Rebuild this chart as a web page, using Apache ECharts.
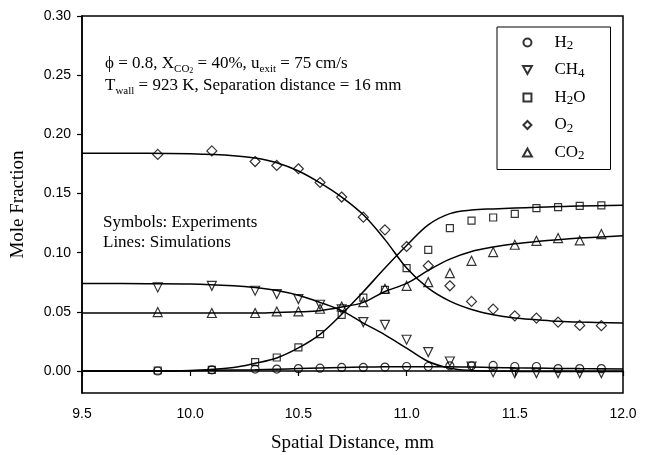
<!DOCTYPE html>
<html>
<head>
<meta charset="utf-8">
<script src="https://cdn.jsdelivr.net/npm/echarts@6/dist/echarts.min.js"></script>
<style>html,body{margin:0;padding:0;background:#fff}#c{width:654px;height:455px}</style>
</head>
<body>
<div id="c"></div>
<script>
// Experimental positions (mm)
const xExp = [9.85, 10.1, 10.3, 10.4, 10.5, 10.6, 10.7, 10.8, 10.9, 11.0, 11.1, 11.2, 11.3, 11.4, 11.5, 11.6, 11.7, 11.8, 11.9];
const h2Exp  = [0.000, 0.001, 0.0016, 0.0016, 0.002, 0.0024, 0.003, 0.003, 0.0033, 0.0038, 0.0038, 0.0044, 0.0044, 0.0047, 0.0038, 0.0038, 0.002, 0.002, 0.002];
const ch4Exp = [0.0706, 0.072, 0.0678, 0.065, 0.0608, 0.056, 0.052, 0.0413, 0.039, 0.0264, 0.016, 0.008, 0.0038, -0.001, -0.0018, -0.0018, -0.0018, -0.0018, -0.0018];
const h2oExp = [0.0004, 0.001, 0.0075, 0.0114, 0.0199, 0.0312, 0.0475, 0.062, 0.0686, 0.087, 0.1024, 0.1207, 0.127, 0.1297, 0.1328, 0.1376, 0.1385, 0.1396, 0.1399];
const o2Exp  = [0.183, 0.186, 0.177, 0.1737, 0.1709, 0.1593, 0.147, 0.130, 0.1193, 0.1052, 0.0889, 0.072, 0.0588, 0.0523, 0.0466, 0.0447, 0.0413, 0.0385, 0.0383];
const co2Exp = [0.0498, 0.049, 0.049, 0.0503, 0.0503, 0.0526, 0.0545, 0.0582, 0.0695, 0.072, 0.0751, 0.0827, 0.0931, 0.1005, 0.1067, 0.110, 0.1123, 0.1103, 0.1157];

// Simulation curves
const xSim   = [9.5, 9.8, 10.0, 10.2, 10.3, 10.4, 10.5, 10.6, 10.7, 10.8, 10.9, 11.0, 11.1, 11.2, 11.3, 11.4, 11.5, 11.6, 11.7, 11.8, 12.0];
const h2Sim  = [0.000, 0.000, 0.0003, 0.0008, 0.001, 0.0015, 0.002, 0.0025, 0.003, 0.0033, 0.0035, 0.0036, 0.0036, 0.0035, 0.0033, 0.003, 0.0027, 0.0025, 0.0022, 0.002, 0.0017];
const ch4Sim = [0.074, 0.0738, 0.0735, 0.072, 0.0705, 0.068, 0.064, 0.058, 0.051, 0.0405, 0.0306, 0.0193, 0.008, 0.0024, 0.0005, 0.0, -0.0003, -0.0005, -0.0005, -0.0005, -0.0005];
const h2oSim = [0.000, 0.000, 0.0005, 0.003, 0.0065, 0.011, 0.0195, 0.031, 0.048, 0.067, 0.087, 0.106, 0.1235, 0.133, 0.136, 0.137, 0.1377, 0.1383, 0.139, 0.1395, 0.140];
const o2Sim  = [0.184, 0.184, 0.1835, 0.182, 0.180, 0.176, 0.169, 0.159, 0.147, 0.132, 0.111, 0.087, 0.070, 0.059, 0.052, 0.0475, 0.0447, 0.0433, 0.042, 0.0413, 0.0405];
const co2Sim = [0.049, 0.049, 0.049, 0.049, 0.049, 0.0495, 0.050, 0.051, 0.054, 0.058, 0.0672, 0.074, 0.085, 0.0945, 0.101, 0.1047, 0.1075, 0.1094, 0.111, 0.1123, 0.1143];

const yTicks = [0, 0.05, 0.10, 0.15, 0.20, 0.25, 0.30];
const species = ['H2', 'CH4', 'H2O', 'O2', 'CO2'];
const legendRich = { H2: '{a|H}{b|2}', CH4: '{a|CH}{b|4}', H2O: '{a|H}{b|2}{a|O}', O2: '{a|O}{b|2}', CO2: '{a|CO}{b|2}' };

const pair = (xs, ys) => xs.map((x, i) => [x, ys[i]]);
const serif = 'Liberation Serif';
const sans = 'Liberation Sans';

const SYM = {
  circle: 'circle',
  downTri: 'path://M0,0L10,0L5,9Z',
  square: 'path://M0,0H10V10H0Z',
  diamond: 'path://M5,0L10,5L5,10L0,5Z',
  upTri: 'path://M5,0L10,9L0,9Z'
};

const markStyle = { color: 'rgba(0,0,0,0)', borderColor: '#000', borderWidth: 1.2 };
function scat(name, ys, symbol, size) {
  return { name, type: 'scatter', data: pair(xExp, ys), symbol, symbolSize: size,
           itemStyle: markStyle, z: 3, emphasis: { disabled: true } };
}
function line(name, ys) {
  return { name, type: 'line', data: pair(xSim, ys), smooth: 0.35, showSymbol: false, symbol: 'none',
           lineStyle: { color: '#000', width: 1.5 }, itemStyle: { color: '#000' }, z: 2 };
}

const chart = echarts.init(document.getElementById('c'), null, { renderer: 'canvas' });
chart.setOption({
  animation: false,
  backgroundColor: '#fff',
  grid: { left: 82, right: 31, top: 16, bottom: 62, show: true, borderColor: '#000', borderWidth: 1.5,
          backgroundColor: 'transparent', containLabel: false, outerBoundsMode: 'none' },
  xAxis: {
    type: 'value', min: 9.5, max: 12.0, interval: 0.5,
    axisLine: { lineStyle: { color: '#000', width: 1.5 } },
    axisTick: { show: true, inside: false, length: 5, lineStyle: { color: '#000', width: 1.2 } },
    splitLine: { show: false },
    axisLabel: { color: '#000', fontFamily: sans, fontSize: 14, margin: 14, formatter: v => v.toFixed(1) },
    name: 'Spatial Distance, mm', nameLocation: 'middle', nameGap: 41,
    nameTextStyle: { color: '#000', fontFamily: serif, fontSize: 19 }
  },
  yAxis: {
    type: 'value', min: -0.0186, max: 0.30,
    axisLine: { lineStyle: { color: '#000', width: 1.5 } },
    axisTick: { show: true, inside: false, length: 5, customValues: yTicks, lineStyle: { color: '#000', width: 1.2 } },
    splitLine: { show: false },
    axisLabel: { color: '#000', fontFamily: sans, fontSize: 14, margin: 11, customValues: yTicks, formatter: v => v.toFixed(2) },
    name: 'Mole Fraction', nameLocation: 'middle', nameGap: 54, nameRotate: 90,
    nameTextStyle: { color: '#000', fontFamily: serif, fontSize: 19 }
  },
  legend: {
    data: species, orient: 'vertical', left: 497, top: 27,
    padding: [7, 25, 7, 25], itemGap: 9, itemWidth: 44, itemHeight: 8,
    borderColor: '#000', borderWidth: 1, backgroundColor: '#fff',
    selectedMode: false,
    formatter: n => legendRich[n],
    textStyle: {
      color: '#000',
      rich: {
        a: { fontFamily: serif, fontSize: 17, lineHeight: 20, color: '#000' },
        b: { fontFamily: serif, fontSize: 13, lineHeight: 11, verticalAlign: 'bottom', color: '#000' }
      }
    }
  },
  graphic: [
    { type: 'text', left: 105, top: 55, z: 10,
      style: { text: '{t|ϕ = 0.8, X}{s|CO}{ss|2}{t| = 40%, u}{s|exit}{t| = 75 cm/s}',
        rich: {
          t: { fontFamily: serif, fontSize: 17, lineHeight: 22, fill: '#000' },
          s: { fontFamily: serif, fontSize: 11, lineHeight: 11, verticalAlign: 'bottom', fill: '#000' },
          ss: { fontFamily: serif, fontSize: 8, lineHeight: 4, verticalAlign: 'bottom', fill: '#000' }
        } } },
    { type: 'text', left: 105, top: 77, z: 10,
      style: { text: '{t|T}{s|wall}{t| = 923 K, Separation distance = 16 mm}',
        rich: {
          t: { fontFamily: serif, fontSize: 17, lineHeight: 22, fill: '#000' },
          s: { fontFamily: serif, fontSize: 11, lineHeight: 11, verticalAlign: 'bottom', fill: '#000' }
        } } },
    { type: 'text', left: 103, top: 213, z: 10,
      style: { text: 'Symbols: Experiments\nLines: Simulations', fontFamily: serif, fontSize: 17, lineHeight: 20, fill: '#000' } }
  ],
  series: [
    line('H2 sim', h2Sim), line('CH4 sim', ch4Sim), line('H2O sim', h2oSim), line('O2 sim', o2Sim), line('CO2 sim', co2Sim),
    scat('H2', h2Exp, SYM.circle, 8),
    scat('CH4', ch4Exp, SYM.downTri, 9),
    scat('H2O', h2oExp, SYM.square, 7),
    scat('O2', o2Exp, SYM.diamond, 10),
    scat('CO2', co2Exp, SYM.upTri, 9)
  ]
});
</script>
</body>
</html>
